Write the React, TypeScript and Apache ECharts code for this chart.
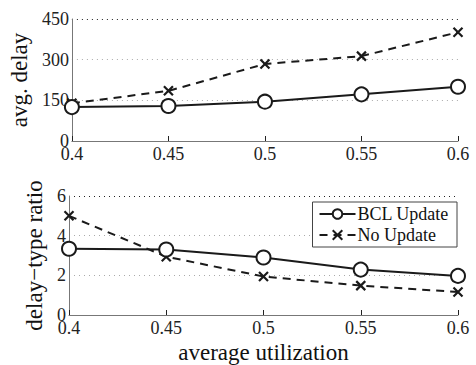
import React, { useEffect, useRef } from "react";
import * as echarts from "echarts";

const xValues = [0.4, 0.45, 0.5, 0.55, 0.6];
const delayBCL = [125, 129, 145, 172, 200];
const delayNoUpdate = [139, 185, 284, 313, 401];
const ratioBCL = [3.34, 3.3, 2.9, 2.29, 1.97];
const ratioNoUpdate = [5.0, 2.94, 1.94, 1.48, 1.16];
const seriesNames = ["BCL Update", "No Update"];

const FONT = "'Liberation Serif', 'Times New Roman', serif";
const CROSS = "path://M0,0L10,10M10,0L0,10";

export default function App() {
  const ref = useRef<HTMLDivElement>(null);
  useEffect(() => {
    if (!ref.current) return;
    const chart = echarts.init(ref.current, null, { renderer: "svg" });
    const pair = (xs: number[], ys: number[]) => xs.map((x, i) => [x, ys[i]]);
    const xAxisBase = (gridIndex: number, name: string) => ({
      type: "value" as const,
      gridIndex,
      min: 0.4,
      max: 0.6,
      interval: 0.05,
      name,
      nameLocation: "middle" as const,
      nameGap: 26,
      nameTextStyle: { fontFamily: FONT, fontSize: 23, color: "#111" },
      axisLine: { show: true, lineStyle: { color: "#777", width: 1 } },
      axisTick: { show: true, inside: true, length: 5, lineStyle: { color: "#222" } },
      axisLabel: {
        fontFamily: FONT,
        fontSize: 18,
        color: "#222",
        margin: 4,
        formatter: (v: number) => String(+v.toFixed(2)),
      },
      splitLine: { show: false },
    });
    const yAxisBase = (gridIndex: number, max: number, interval: number, name: string, gap: number) => ({
      type: "value" as const,
      gridIndex,
      min: 0,
      max,
      interval,
      name,
      nameLocation: "middle" as const,
      nameGap: gap,
      nameTextStyle: { fontFamily: FONT, fontSize: 23, color: "#111" },
      axisLine: { show: true, lineStyle: { color: "#777", width: 1 } },
      axisTick: { show: false },
      axisLabel: { fontFamily: FONT, fontSize: 18, color: "#222", margin: 3 },
      splitLine: {
        show: true,
        lineStyle: { color: ["#aaa", "#aaa", "#aaa", "#222"], type: [1, 4], width: 1 },
      },
    });
    const lineSeries = (name: string, xi: number, data: number[][], dashed: boolean) => ({
      name,
      type: "line" as const,
      xAxisIndex: xi,
      yAxisIndex: xi,
      data,
      clip: false,
      symbol: dashed ? CROSS : "emptyCircle",
      symbolSize: dashed ? 9 : 14,
      showSymbol: true,
      lineStyle: { color: "#1a1a1a", width: 2, type: dashed ? [8, 6] : "solid" },
      itemStyle: { color: "#1a1a1a", borderColor: "#1a1a1a", borderWidth: 2.2 },
      z: dashed ? 3 : 4,
    });
    chart.setOption({
      animation: false,
      backgroundColor: "#fff",
      grid: [
        { left: 69, right: 18, top: 19, height: 122 },
        { left: 69, right: 18, top: 196, height: 124 },
      ],
      xAxis: [xAxisBase(0, ""), xAxisBase(1, "average utilization")],
      yAxis: [
        yAxisBase(0, 450, 150, "avg. delay", 34),
        yAxisBase(1, 6, 2, "delay\u2212type ratio", 20),
      ],
      legend: {
        data: seriesNames,
        orient: "vertical",
        right: 19,
        top: 202,
        backgroundColor: "#fff",
        borderColor: "#444",
        borderWidth: 1,
        borderRadius: 0,
        padding: [3, 8, 3, 6],
        itemGap: 3,
        itemWidth: 36,
        itemHeight: 12,
        textStyle: { fontFamily: FONT, fontSize: 18, color: "#111", padding: [0, 0, 0, -3] },
      },
      series: [
        lineSeries(seriesNames[0], 0, pair(xValues, delayBCL), false),
        lineSeries(seriesNames[1], 0, pair(xValues, delayNoUpdate), true),
        lineSeries(seriesNames[0], 1, pair(xValues, ratioBCL), false),
        lineSeries(seriesNames[1], 1, pair(xValues, ratioNoUpdate), true),
      ],
    });
    return () => chart.dispose();
  }, []);
  return <div ref={ref} style={{ width: 476, height: 365, position: "absolute", left: 0, top: 0 }} />;
}
